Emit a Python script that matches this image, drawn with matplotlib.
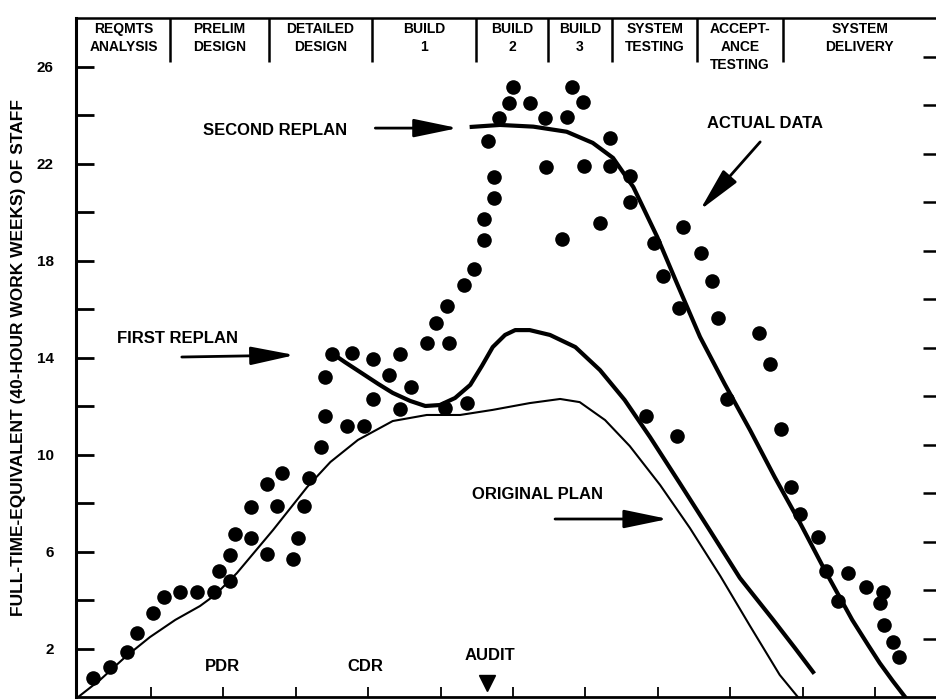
import matplotlib
matplotlib.use('Agg')
import matplotlib.pyplot as plt

plt.rcParams['font.family'] = ['Liberation Sans', 'DejaVu Sans']
plt.rcParams['font.weight'] = 'bold'

# ---------------- data ----------------
actual_x = [0.21, 0.44, 0.67, 0.81, 1.03, 1.18, 1.40, 1.64, 1.87, 1.94, 2.10, 2.10,
            2.17, 2.38, 2.38, 2.60, 2.60, 2.75, 2.81, 2.97, 3.04, 3.11, 3.18, 3.35,
            3.41, 3.41, 3.50, 3.71, 3.78, 3.94, 4.07, 4.07, 4.29, 4.44, 4.44, 4.59,
            4.81, 5.06, 5.12, 5.36, 4.94, 5.09, 5.32, 5.46, 5.60, 5.60, 5.74, 5.74,
            5.66, 5.80, 5.94, 6.00, 6.23, 6.44, 6.45, 6.67, 6.74, 6.81, 6.97, 6.98,
            7.20, 7.34, 7.34, 7.61, 7.62, 7.94, 8.07, 8.29, 8.34, 8.60, 8.75, 8.83,
            9.40, 7.83, 8.26, 8.95, 9.54, 9.70, 9.83, 9.96, 10.21, 10.32, 10.48,
            10.62, 10.87, 11.10, 11.06, 11.12, 11.24, 11.32]
actual_y = [0.77, 1.25, 1.87, 2.64, 3.48, 4.14, 4.34, 4.34, 4.34, 5.21, 4.80, 5.86,
            6.72, 6.54, 7.85, 5.90, 8.77, 7.88, 9.22, 5.69, 6.54, 7.88, 9.03, 10.31,
            11.59, 13.21, 14.14, 11.18, 14.17, 11.18, 13.93, 12.28, 13.28, 14.14, 11.86, 12.80,
            14.59, 11.91, 14.59, 12.14, 15.44, 16.12, 16.99, 17.65, 18.85, 19.70, 20.56, 21.43,
            22.94, 23.86, 24.51, 25.14, 24.51, 23.86, 21.87, 18.89, 23.90, 25.17, 24.52, 21.90,
            19.56, 23.04, 21.90, 21.48, 20.42, 18.73, 17.36, 16.05, 19.39, 18.30, 17.17, 15.64,
            15.00, 11.59, 10.76, 12.29, 13.73, 11.05, 8.66, 7.55, 6.60, 5.20, 3.96,
            5.11, 4.54, 4.33, 3.88, 2.97, 2.27, 1.65]

original_x = [0.00, 0.30, 0.65, 0.99, 1.34, 1.68, 1.89, 2.19, 2.69, 3.16, 3.48, 3.86,
              4.34, 4.81, 5.27, 5.72, 6.23, 6.65, 6.92, 7.27, 7.61, 8.03, 8.44, 8.86,
              9.27, 9.68, 9.93]
original_y = [0.00, 0.70, 1.65, 2.47, 3.18, 3.75, 4.21, 5.11, 6.89, 8.66, 9.69, 10.60,
              11.38, 11.63, 11.63, 11.84, 12.12, 12.29, 12.16, 11.42, 10.35, 8.74, 6.97, 4.99,
              2.93, 0.91, 0.00]

first_x = [3.52, 3.68, 3.89, 4.14, 4.34, 4.58, 4.79, 4.99, 5.20, 5.41, 5.57, 5.72,
           5.89, 6.03, 6.23, 6.51, 6.86, 7.20, 7.54, 7.89, 8.30, 8.72, 9.13, 9.59,
           9.89, 10.14]
first_y = [14.14, 13.81, 13.40, 12.91, 12.54, 12.21, 12.00, 12.04, 12.33, 12.87, 13.65, 14.43,
           14.93, 15.13, 15.13, 14.93, 14.43, 13.48, 12.25, 10.72, 8.82, 6.85, 4.91, 3.18,
           2.02, 1.03]

second_x = [5.43, 5.82, 6.28, 6.74, 7.10, 7.38, 7.66, 7.99, 8.26, 8.58, 8.92, 9.27,
            9.61, 9.96, 10.30, 10.68, 10.90, 11.06, 11.24, 11.41]
second_y = [23.51, 23.59, 23.52, 23.31, 22.85, 22.23, 21.03, 18.97, 17.07, 14.85, 12.91, 11.01,
            9.07, 7.18, 5.24, 3.18, 2.14, 1.40, 0.66, 0.00]

phase_labels = ['REQMTS\nANALYSIS', 'PRELIM\nDESIGN', 'DETAILED\nDESIGN', 'BUILD\n1',
                'BUILD\n2', 'BUILD\n3', 'SYSTEM\nTESTING', 'ACCEPT-\nANCE\nTESTING',
                'SYSTEM\nDELIVERY']
phase_bounds = [0.0, 1.27, 2.63, 4.06, 5.49, 6.48, 7.37, 8.54, 9.72, 11.85]

milestone_labels = ['PDR', 'CDR', 'AUDIT']
milestone_x = [1.99, 3.96, 5.68]
audit_x = 5.64

y_tick_values = list(range(2, 27, 2))
y_label_values = [2, 6, 10, 14, 18, 22, 26]
x_tick_values = list(range(1, 12))
right_tick_values = [2.4 + 2 * k for k in range(13)]

# ---------------- figure ----------------
fig = plt.figure(figsize=(9.37, 7.0), dpi=100)
ax = fig.add_axes([76 / 937, 3 / 700, 861 / 937, 679 / 700])
ax.set_xlim(-0.03, 11.85)
ax.set_ylim(0, 28)

ax.spines['right'].set_visible(False)
ax.spines['left'].set_linewidth(2.2)
ax.spines['bottom'].set_linewidth(2.0)
ax.spines['top'].set_linewidth(1.8)

ax.set_yticks(y_tick_values)
ax.set_yticklabels([str(v) if v in y_label_values else '' for v in y_tick_values])
ax.tick_params(axis='y', direction='in', length=13, width=2.0, labelsize=11, pad=16)
ax.set_xticks(x_tick_values)
ax.set_xticklabels([])
ax.tick_params(axis='x', direction='in', length=7, width=1.3)

ax2 = ax.twinx()
ax2.set_ylim(0, 28)
ax2.set_yticks(right_tick_values)
ax2.set_yticklabels([])
ax2.tick_params(axis='y', direction='in', length=10, width=1.8)
for s in ax2.spines.values():
    s.set_visible(False)

ax.set_ylabel('FULL-TIME-EQUIVALENT (40-HOUR WORK WEEKS) OF STAFF', fontsize=12.5,
              fontweight='bold')
ax.yaxis.set_label_coords(-0.058, 0.50)

# header
for b in phase_bounds[1:-1]:
    ax.plot([b, b], [26.2, 28], color='black', lw=1.8, solid_capstyle='butt', clip_on=False)
for i, lab in enumerate(phase_labels):
    cx = (phase_bounds[i] + phase_bounds[i + 1]) / 2
    ax.text(cx, 27.85, lab, ha='center', va='top', fontsize=10, linespacing=1.4)

# curves
ax.plot(original_x, original_y, color='black', lw=1.5)
ax.plot(first_x, first_y, color='black', lw=3.0)
ax.plot(second_x, second_y, color='black', lw=3.0)
ax.plot(actual_x, actual_y, 'o', color='black', ms=10.5, mew=0)

# annotations
arrow = dict(arrowstyle='-|>,head_length=1.35,head_width=0.28', lw=2.0, color='black',
             mutation_scale=20, shrinkA=0, shrinkB=0)
fs = 12
ax.text(2.72, 23.38, 'SECOND REPLAN', ha='center', va='center', fontsize=fs)
ax.annotate('', xy=(5.24, 23.46), xytext=(4.10, 23.46), arrowprops=arrow)
ax.text(9.48, 23.67, 'ACTUAL DATA', ha='center', va='center', fontsize=fs)
ax.annotate('', xy=(8.58, 20.08), xytext=(9.41, 22.89), arrowprops=arrow)
ax.text(1.37, 14.80, 'FIRST REPLAN', ha='center', va='center', fontsize=fs)
ax.annotate('', xy=(2.99, 14.10), xytext=(1.43, 14.02), arrowprops=arrow)
ax.text(6.34, 8.33, 'ORIGINAL PLAN', ha='center', va='center', fontsize=fs)
ax.annotate('', xy=(8.14, 7.34), xytext=(6.58, 7.34), arrowprops=arrow)

for lab, mx in zip(milestone_labels, milestone_x):
    yy = 1.73 if lab == 'AUDIT' else 1.24
    ax.text(mx, yy, lab, ha='center', va='center', fontsize=fs)
ax.plot([audit_x], [0.58], 'v', color='black', ms=12)

fig.savefig('out.png', dpi=100)
